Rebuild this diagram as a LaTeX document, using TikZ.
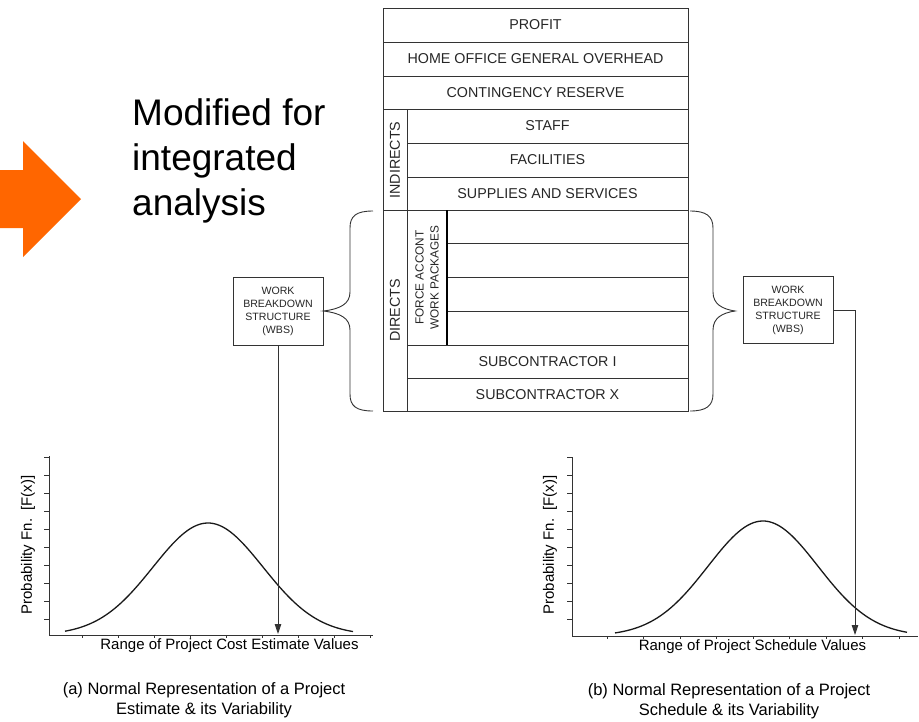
\documentclass[tikz,border=0pt]{standalone}
\usepackage{fontspec}
\setmainfont{Liberation Sans}
\usetikzlibrary{arrows.meta}
\definecolor{arroworange}{HTML}{FF6600}
\definecolor{inkgray}{HTML}{333333}
\tikzset{
  grid/.style={draw=inkgray, line width=0.9pt},
  stacktext/.style={font=\fontsize{14.3}{16}\selectfont, inner sep=0pt, text=black!85},
  wbsbox/.style={draw=inkgray, line width=0.9pt, minimum width=90pt, minimum height=68pt, align=center, inner sep=0pt, font=\fontsize{10.6}{13}\selectfont, text=black!85},
  arr/.style={draw=inkgray, line width=0.9pt, -{Triangle[length=10pt,width=6.5pt]}},
  curve/.style={draw=black!90, line width=1.3pt},
  axis/.style={draw=inkgray, line width=1pt},
  axlabel/.style={font=\fontsize{15}{17}\selectfont, inner sep=0pt},
  caption/.style={font=\fontsize{16.5}{20}\selectfont, align=center, inner sep=0pt},
  bigtext/.style={font=\fontsize{37}{45}\selectfont, inner sep=0pt, anchor=base west}
}
\begin{document}
\begin{tikzpicture}[x=1pt,y=-1pt]
\useasboundingbox (0,0) rectangle (919,721);
% orange arrow
\fill[arroworange] (0,170) -- (23,170) -- (23,141) -- (81,199) -- (23,257) -- (23,228) -- (0,228) -- cycle;
\node[bigtext] (mod1) at (132,125) {Modified for};
\node[bigtext] (mod2) at (132,170) {integrated};
\node[bigtext] (mod3) at (132,215) {analysis};
% stack
\draw[grid] (383,8) rectangle (688,411);
\draw[grid] (383,42) -- (688,42);
\draw[grid] (383,76) -- (688,76);
\draw[grid] (383,109) -- (688,109);
\draw[grid] (407,143) -- (688,143);
\draw[grid] (407,177) -- (688,177);
\draw[grid] (383,210) -- (688,210);
\draw[grid] (407,109) -- (407,411);
\draw[grid] (447,243) -- (688,243);
\draw[grid] (447,277) -- (688,277);
\draw[grid] (447,311) -- (688,311);
\draw[grid] (407,345) -- (688,345);
\draw[grid] (407,378) -- (688,378);
\draw[draw=black, line width=1.4pt] (447,210) -- (447,345);
\node[stacktext] (profit) at (535.5,25) {PROFIT};
\node[stacktext] (home) at (535.5,59) {HOME OFFICE GENERAL OVERHEAD};
\node[stacktext] (cont) at (535.5,92.5) {CONTINGENCY RESERVE};
\node[stacktext] (staff) at (547.5,126) {STAFF};
\node[stacktext] (fac) at (547.5,160) {FACILITIES};
\node[stacktext] (sup) at (547.5,193.5) {SUPPLIES AND SERVICES};
\node[stacktext] (subi) at (547.5,361.5) {SUBCONTRACTOR I};
\node[stacktext] (subx) at (547.5,394.5) {SUBCONTRACTOR X};
\node[stacktext, rotate=90] (ind) at (395,160) {INDIRECTS};
\node[stacktext, rotate=90] (dir) at (395,310.5) {DIRECTS};
\node[stacktext, rotate=90, align=center, font=\fontsize{11.8}{15}\selectfont] (force) at (427,277.5) {FORCE ACCONT\\WORK PACKAGES};
% WBS boxes
\node[wbsbox] (wbsL) at (278,311) {WORK\\BREAKDOWN\\STRUCTURE\\(WBS)};
\node[wbsbox, minimum height=67pt] (wbsR) at (788,310) {WORK\\BREAKDOWN\\STRUCTURE\\(WBS)};
% braces
\draw[grid] (373,211) .. controls (356,211) and (350,216) .. (350,228) -- (350,292)
  .. controls (350,304) and (340,309) .. (wbsL.east)
  .. controls (340,313) and (350,318) .. (350,330) -- (350,394)
  .. controls (350,406) and (356,411) .. (373,411);
\draw[grid] (690,211) .. controls (706,211) and (713,216) .. (713,228) -- (713,292)
  .. controls (713,304) and (722,309) .. (735,311)
  .. controls (722,313) and (713,318) .. (713,330) -- (713,394)
  .. controls (713,406) and (706,411) .. (690,411);
% left graph
\draw[axis] (49,456) -- (49,635) -- (373,635);
\foreach \k in {0,...,9} { \draw[axis, line width=0.8pt] (44,457+18*\k) -- (49,457+18*\k); }
\foreach \k in {0,...,8} { \draw[axis, line width=0.8pt] (82+36*\k,635) -- (82+36*\k,638); }
\draw[curve] plot[domain=65:353, samples=100] (\x, {635-112*exp(-0.5*((\x-208)/55)^2)});
\coordinate (tipL) at (278,634);
\draw[arr] (wbsL.south) -- (wbsL.south |- tipL);
\node[axlabel] (xlabL) at (229.5,646) {Range of Project Cost Estimate Values};
\node[axlabel, rotate=90] (ylabL) at (28,545) {Probability Fn.\ \ [F(x)]};
\node[caption] (capL) at (204,700) {(a) Normal Representation of a Project\\Estimate \& its Variability};
% right graph
\draw[axis] (572,457) -- (572,636) -- (918,636);
\foreach \k in {0,...,9} { \draw[axis, line width=0.8pt] (567,457+18*\k) -- (572,457+18*\k); }
\foreach \k in {0,...,8} { \draw[axis, line width=0.8pt] (607+36.5*\k,636) -- (607+36.5*\k,639); }
\draw[curve] plot[domain=615:907, samples=100] (\x, {636-115*exp(-0.5*((\x-763)/55)^2)});
\coordinate (tipR) at (855,635);
\draw[arr] (wbsR.east) -| (tipR);
\node[axlabel] (xlabR) at (752.5,647) {Range of Project Schedule Values};
\node[axlabel, rotate=90] (ylabR) at (550,545) {Probability Fn.\ \ [F(x)]};
\node[caption] (capR) at (729,701) {(b) Normal Representation of a Project\\Schedule \& its Variability};
\end{tikzpicture}
\end{document}
